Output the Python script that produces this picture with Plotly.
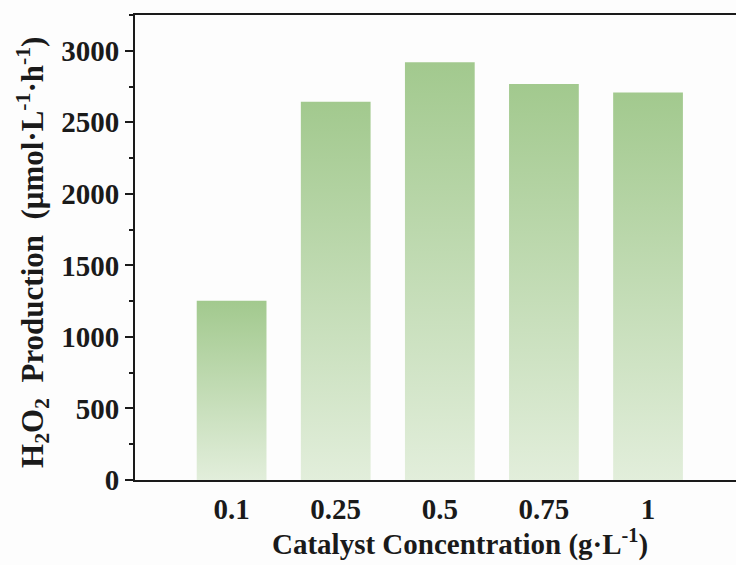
import plotly.graph_objects as go

categories = ["0.1", "0.25", "0.5", "0.75", "1"]
production = [1253, 2644, 2919, 2767, 2709]
y_tickvals = [0, 500, 1000, 1500, 2000, 2500, 3000]

bar_width = 0.67
top_color = "#a2c98e"
bottom_color = "#e2eedb"

fig = go.Figure()
for i, (cat, val) in enumerate(zip(categories, production)):
    x0, x1 = i - bar_width / 2, i + bar_width / 2
    fig.add_trace(go.Scatter(
        x=[x0, x0, x1, x1, x0],
        y=[0, val, val, 0, 0],
        mode="lines",
        line=dict(width=0),
        fill="toself",
        fillgradient=dict(type="vertical",
                          colorscale=[[0, bottom_color], [1, top_color]]),
        hoverinfo="skip",
        showlegend=False,
        name=cat,
    ))

font_family = "Liberation Serif, Times New Roman, serif"
axis_color = "#1a1a1a"

fig.update_layout(
    width=736, height=565,
    margin=dict(l=135, r=0, t=15, b=85),
    paper_bgcolor="#fdfdfd",
    plot_bgcolor="#fdfdfd",
    font=dict(family=font_family, size=28, color="#1a1a1a"),
    showlegend=False,
    xaxis=dict(
        range=[-0.928, 4.845],
        tickvals=list(range(len(categories))),
        ticktext=[f"<b>{c}</b>" for c in categories],
        showline=True, linewidth=2, linecolor=axis_color, mirror=True,
        ticks="", showgrid=False, zeroline=False,
        ticklabelstandoff=2,
        tickfont=dict(size=29, family=font_family),
    ),
    yaxis=dict(
        range=[0, 3250],
        tickvals=y_tickvals,
        ticktext=[f"<b>{v}</b>" for v in y_tickvals],
        showline=True, linewidth=2, linecolor=axis_color,
        ticks="outside", ticklen=8, tickwidth=2, tickcolor=axis_color,
        minor=dict(ticks="outside", ticklen=4, tickwidth=2, tickcolor=axis_color, dtick=250, showgrid=False),
        showgrid=False, zeroline=False,
        tickfont=dict(size=29, family=font_family),
    ),
    annotations=[
        dict(text="<b>Catalyst Concentration (g·L<sup>-1</sup>)</b>",
             xref="paper", yref="paper", x=0.54, y=-0.135,
             xanchor="center", yanchor="middle", showarrow=False,
             font=dict(size=29, family=font_family)),
        dict(text="<b>H<sub>2</sub>O<sub>2</sub>  Production  (μmol·L<sup>-1</sup>·h<sup>-1</sup>)</b>",
             xref="paper", yref="paper", x=-0.17, y=0.49,
             xanchor="center", yanchor="middle", textangle=-90, showarrow=False,
             font=dict(size=31, family=font_family)),
    ],
    shapes=[
        dict(type="line", xref="paper", yref="paper", x0=-0.015, x1=0, y0=0, y1=0,
             line=dict(color=axis_color, width=2)),
        dict(type="line", xref="paper", yref="paper", x0=-0.005, x1=0, y0=1, y1=1,
             line=dict(color=axis_color, width=2)),
    ],
)

fig.write_html("out.html", config={"displayModeBar": False},
               post_script="document.body.style.margin='0';document.body.style.overflow='hidden';")
